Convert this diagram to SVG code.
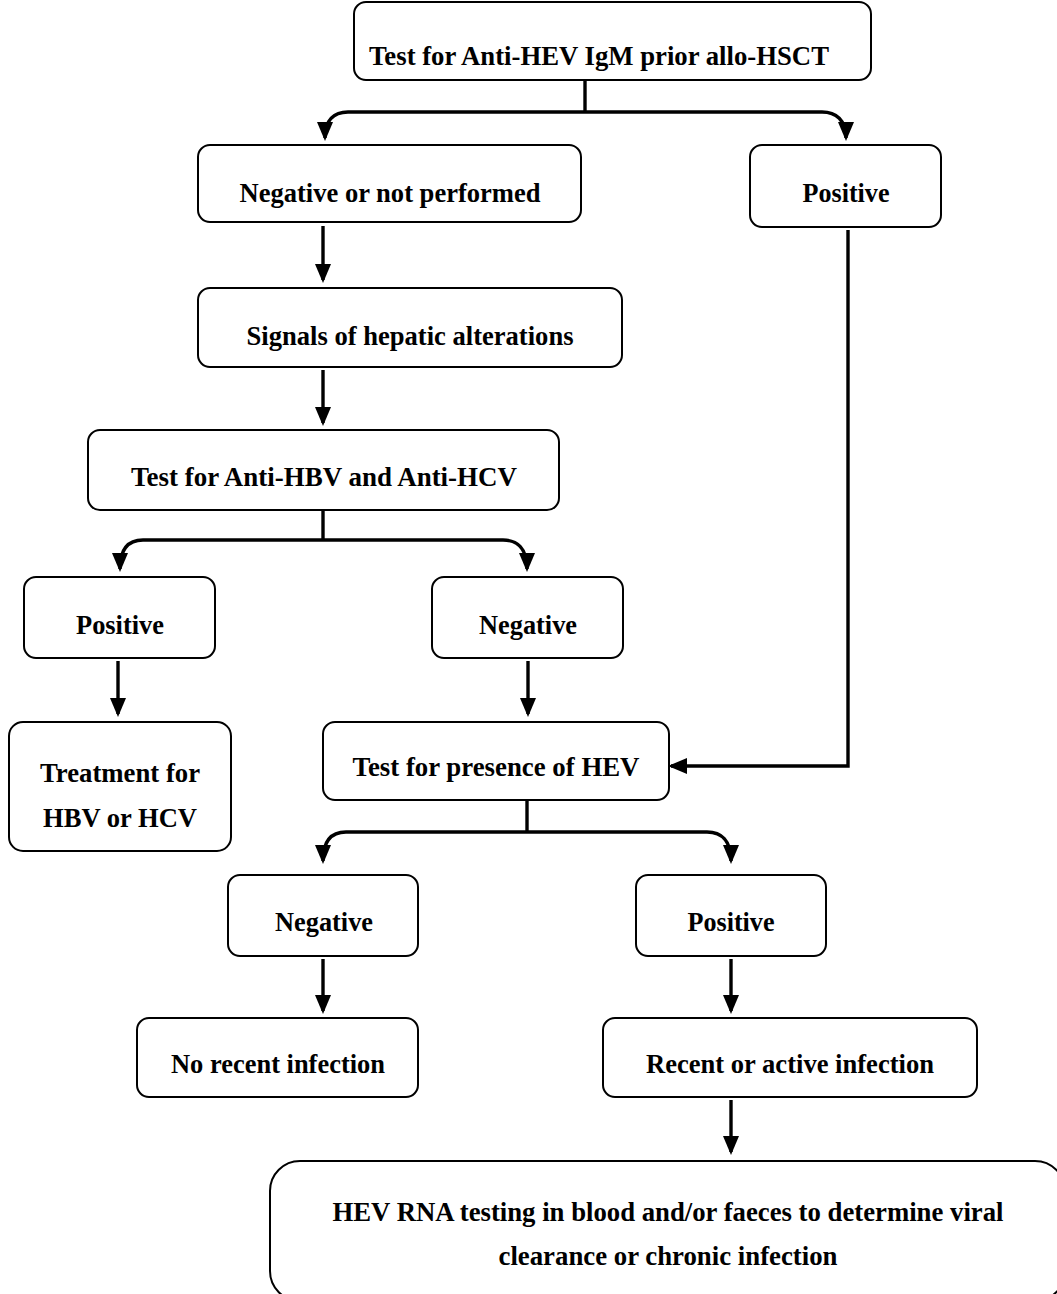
<svg xmlns="http://www.w3.org/2000/svg" width="1057" height="1294" viewBox="0 0 1057 1294">
<defs>
<style>
.box{fill:#fff;stroke:#000;stroke-width:2}
.t{font-family:"Liberation Serif","Times New Roman",serif;font-weight:bold;font-size:28px;fill:#000;text-anchor:middle}
.c{fill:none;stroke:#000;stroke-width:3.4}
</style>
<marker id="ah" markerUnits="userSpaceOnUse" markerWidth="20" markerHeight="18" refX="16" refY="8" orient="auto" viewBox="0 0 20 18">
<path d="M0,0 L19,8 L0,16 z" fill="#000"/>
</marker>
</defs>
<rect width="1057" height="1294" fill="#fff"/>
<g id="connectors">
<path class="c" d="M585 80 V112"/>
<path class="c" d="M585 112 H348 C334 112 325 120 325 138" marker-end="url(#ah)"/>
<path class="c" d="M585 112 H822 C836 112 846 120 846 138" marker-end="url(#ah)"/>
<path class="c" d="M323 226 V280" marker-end="url(#ah)"/>
<path class="c" d="M323 370 V423" marker-end="url(#ah)"/>
<path class="c" d="M323 510 V540"/>
<path class="c" d="M323 540 H143 C129 540 120 548 120 569" marker-end="url(#ah)"/>
<path class="c" d="M323 540 H503 C517 540 527 548 527 569" marker-end="url(#ah)"/>
<path class="c" d="M118 661 V714" marker-end="url(#ah)"/>
<path class="c" d="M528 661 V714" marker-end="url(#ah)"/>
<path class="c" d="M848 230 V766 H671" marker-end="url(#ah)"/>
<path class="c" d="M527 800 V832"/>
<path class="c" d="M527 832 H346 C332 832 323 840 323 861" marker-end="url(#ah)"/>
<path class="c" d="M527 832 H707 C721 832 731 840 731 861" marker-end="url(#ah)"/>
<path class="c" d="M323 959 V1011" marker-end="url(#ah)"/>
<path class="c" d="M731 959 V1011" marker-end="url(#ah)"/>
<path class="c" d="M731 1100 V1152" marker-end="url(#ah)"/>
</g>
<g id="n1"><rect class="box" x="354" y="2" width="517" height="78" rx="12"/><text class="t" x="599" y="65" textLength="460" lengthAdjust="spacingAndGlyphs">Test for Anti-HEV IgM prior allo-HSCT</text></g>
<g id="n2"><rect class="box" x="198" y="145" width="383" height="77" rx="12"/><text class="t" x="390" y="202" textLength="301" lengthAdjust="spacingAndGlyphs">Negative or not performed</text></g>
<g id="n3"><rect class="box" x="750" y="145" width="191" height="82" rx="12"/><text class="t" x="846" y="202" textLength="87" lengthAdjust="spacingAndGlyphs">Positive</text></g>
<g id="n4"><rect class="box" x="198" y="288" width="424" height="79" rx="12"/><text class="t" x="410" y="345" textLength="327" lengthAdjust="spacingAndGlyphs">Signals of hepatic alterations</text></g>
<g id="n5"><rect class="box" x="88" y="430" width="471" height="80" rx="12"/><text class="t" x="324" y="486" textLength="386" lengthAdjust="spacingAndGlyphs">Test for Anti-HBV and Anti-HCV</text></g>
<g id="n6"><rect class="box" x="24" y="577" width="191" height="81" rx="12"/><text class="t" x="120" y="634" textLength="88" lengthAdjust="spacingAndGlyphs">Positive</text></g>
<g id="n7"><rect class="box" x="432" y="577" width="191" height="81" rx="12"/><text class="t" x="528" y="634" textLength="98" lengthAdjust="spacingAndGlyphs">Negative</text></g>
<g id="n8"><rect class="box" x="9" y="722" width="222" height="129" rx="14"/><text class="t" x="120" y="782" textLength="160" lengthAdjust="spacingAndGlyphs">Treatment for</text><text class="t" x="120" y="827" textLength="154" lengthAdjust="spacingAndGlyphs">HBV or HCV</text></g>
<g id="n9"><rect class="box" x="323" y="722" width="346" height="78" rx="12"/><text class="t" x="496" y="776" textLength="287" lengthAdjust="spacingAndGlyphs">Test for presence of HEV</text></g>
<g id="n10"><rect class="box" x="228" y="875" width="190" height="81" rx="12"/><text class="t" x="324" y="931" textLength="98" lengthAdjust="spacingAndGlyphs">Negative</text></g>
<g id="n11"><rect class="box" x="636" y="875" width="190" height="81" rx="12"/><text class="t" x="731" y="931" textLength="87" lengthAdjust="spacingAndGlyphs">Positive</text></g>
<g id="n12"><rect class="box" x="137" y="1018" width="281" height="79" rx="12"/><text class="t" x="278" y="1073" textLength="214" lengthAdjust="spacingAndGlyphs">No recent infection</text></g>
<g id="n13"><rect class="box" x="603" y="1018" width="374" height="79" rx="12"/><text class="t" x="790" y="1073" textLength="288" lengthAdjust="spacingAndGlyphs">Recent or active infection</text></g>
<g id="n14"><rect class="box" x="270" y="1161" width="795" height="140" rx="30"/><text class="t" x="668" y="1221" textLength="671" lengthAdjust="spacingAndGlyphs">HEV RNA testing in blood and/or faeces to determine viral</text><text class="t" x="668" y="1265" textLength="339" lengthAdjust="spacingAndGlyphs">clearance or chronic infection</text></g>
</svg>
